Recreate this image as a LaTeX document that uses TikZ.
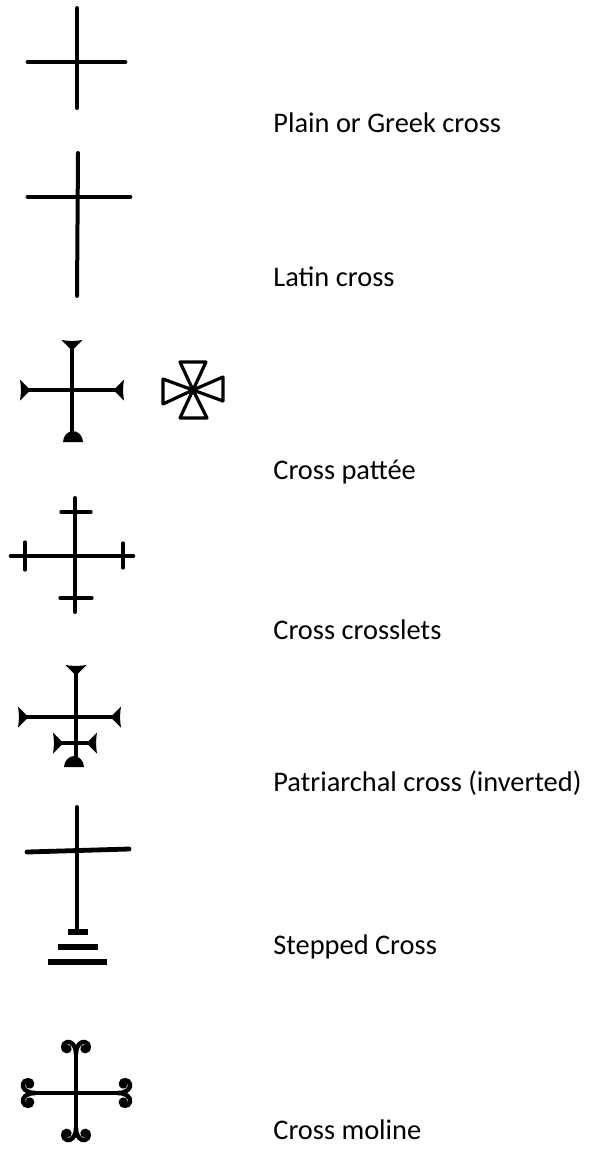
\documentclass[tikz,border=0pt]{standalone}
\usepackage{fontspec}
\setmainfont{Carlito}
\usetikzlibrary{positioning}

\tikzset{
  flare/.pic={\fill (-1.5,1) -- (-1.5,-2) -- (-10.5,-11) .. controls (-4,-9.8) and (4,-9.8) .. (10.5,-11) -- (1.5,-2) -- (1.5,1) -- cycle;},
  mound/.pic={\fill (-10,0) .. controls (-10,-6) and (-5,-11) .. (0,-11) .. controls (5,-11) and (10,-6) .. (10,0) -- cycle;},
  moline/.pic={
    \draw[curl] (0,0) .. controls (0,-9) and (-5,-13) .. (-9,-12) .. controls (-14,-11) and (-14,-3) .. (-9.5,-3) .. controls (-6,-3) and (-6,-7) .. (-8.5,-7);
    \draw[curl] (0,0) .. controls (0,-9) and (5,-13) .. (9,-12) .. controls (14,-11) and (14,-3) .. (9.5,-3) .. controls (6,-3) and (6,-7) .. (8.5,-7);}
}

\begin{document}
\begin{tikzpicture}[x=0.5pt,y=-0.5pt,
  bar/.style={line width=2pt,line cap=round},
  thin bar/.style={line width=1.6pt,line cap=round},
  stepbar/.style={line width=2.6pt},
  curl/.style={line width=2.2pt,line cap=round},
  lbl/.style={anchor=base west,font=\fontsize{14.2}{17}\selectfont,inner sep=0pt}]
\useasboundingbox (0,0) rectangle (589,1175);

% plain or greek cross
\draw[bar] (77,8) -- (77,108);
\draw[bar,line width=2.4pt] (28,62) -- (125,62);
\node[lbl] (greek) at (273,132) {Plain or Greek cross};

% latin cross
\draw[bar] (78,153) -- (77,296);
\draw[bar,line width=2.4pt] (28,197) -- (130,197);
\node[lbl] (latin) at (273,286) {Latin cross};

% cross pattee
\draw[thin bar] (72,348) -- (72,434);
\draw[thin bar] (28,390) -- (116,390);
\pic at (72,351) {flare};
\pic[rotate=90] at (31,390) {flare};
\pic[rotate=-90] at (113,390) {flare};
\pic at (73,442) {mound};
\coordinate (pc) at (193,390);
\draw[line width=1.6pt,line join=round] (pc) -- (180,362) -- (206,362) -- (pc) -- (223,377) -- (223,401) -- (pc)
  -- (207,418) -- (180,418) -- (pc) -- (163,404) -- (163,379) -- cycle;
\node[lbl] (pattee) at (273,479) {Cross pattée};

% cross crosslets
\draw[bar] (75,498) -- (75,612);
\draw[bar,line width=2.3pt] (11,556) -- (133,556);
\draw[thin bar] (61,512) -- (91,512);
\draw[thin bar] (60,598) -- (92,598);
\draw[thin bar] (25,542) -- (25,570);
\draw[thin bar] (123,543) -- (123,568);
\node[lbl] (crosslets) at (273,639) {Cross crosslets};

% patriarchal cross (inverted)
\draw[thin bar] (76,672) -- (76,760);
\draw[thin bar,line width=2pt] (26,717) -- (113,717);
\draw[thin bar] (60,743) -- (90,743);
\pic at (76,676) {flare};
\pic[rotate=90] at (29,717) {flare};
\pic[rotate=-90] at (110,717) {flare};
\pic[rotate=90] at (64,743) {flare};
\pic[rotate=-90] at (86,743) {flare};
\pic at (74,767) {mound};
\node[lbl] (patriarchal) at (273,791) {Patriarchal cross (inverted)};

% stepped cross
\draw[bar] (77,807) -- (77,930);
\draw[bar,line width=2.4pt] (27,852) -- (129,849);
\draw[stepbar] (68,932) -- (88,932);
\draw[stepbar] (58,947) -- (98,947);
\draw[stepbar] (48,962) -- (107,962);
\node[lbl] (stepped) at (273,954) {Stepped Cross};

% cross moline
\draw[bar] (76,1054) -- (76,1128);
\draw[bar] (35,1093) -- (118,1093);
\pic at (76,1054) {moline};
\pic[rotate=90] at (35,1093) {moline};
\pic[rotate=-90] at (118,1093) {moline};
\pic[rotate=180] at (76,1128) {moline};
\node[lbl] (moline) at (273,1139) {Cross moline};
\end{tikzpicture}
\end{document}
